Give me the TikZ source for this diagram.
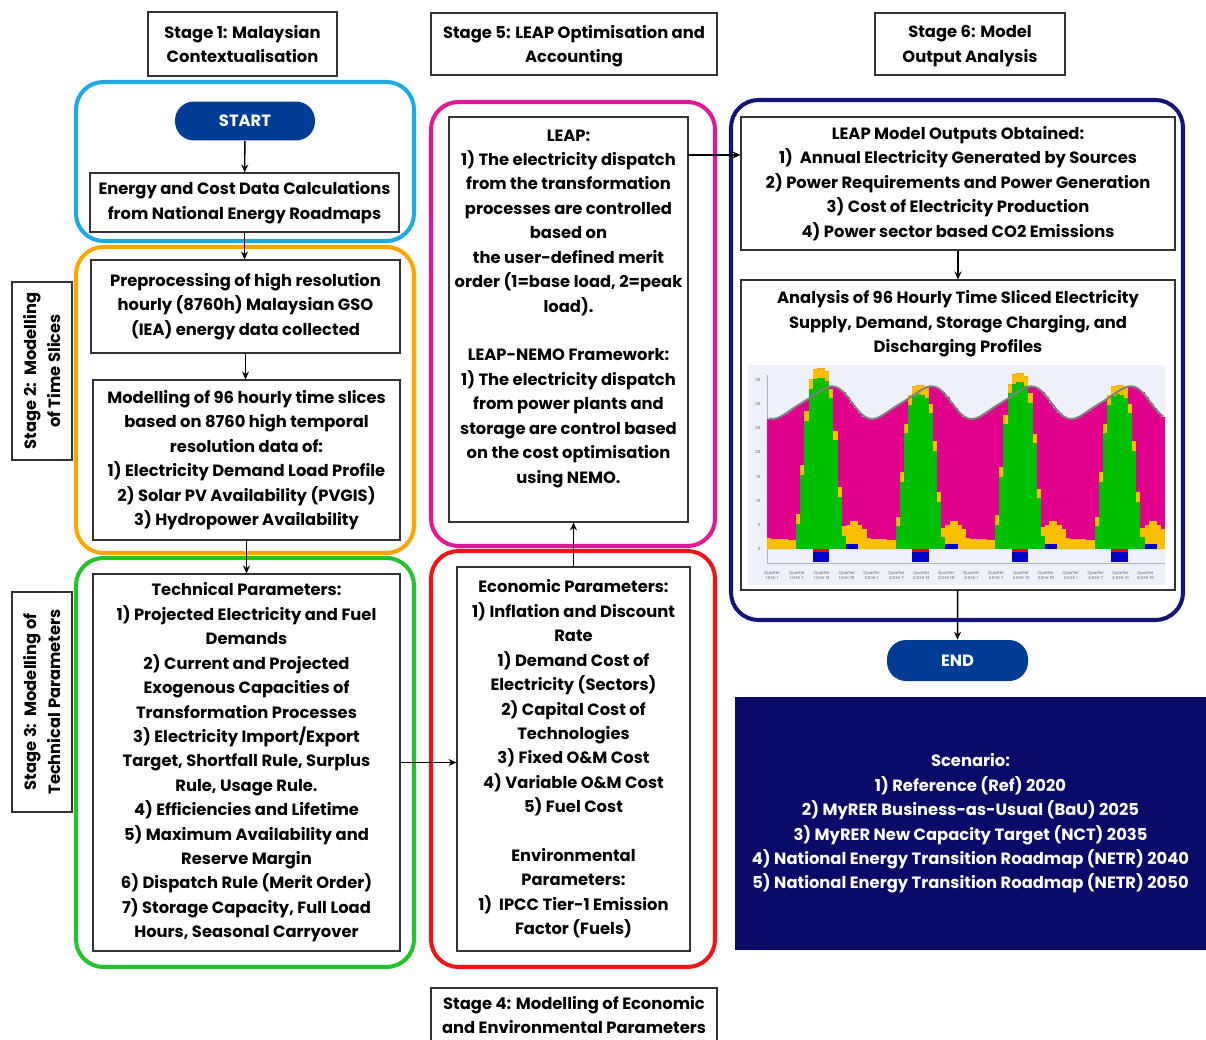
\documentclass[tikz,border=0pt]{standalone}
\usepackage{fontspec}
\setmainfont{Poppins}
\usetikzlibrary{arrows.meta}
\usetikzlibrary{positioning}

\definecolor{frcyan}{RGB}{30,170,225}
\definecolor{frorange}{RGB}{255,165,0}
\definecolor{frgreen}{RGB}{35,195,45}
\definecolor{frmagenta}{RGB}{230,20,150}
\definecolor{frred}{RGB}{240,20,20}
\definecolor{frnavy}{RGB}{20,20,120}
\definecolor{pillblue}{RGB}{0,60,150}
\definecolor{scenblue}{RGB}{10,10,105}
\definecolor{chartbg}{RGB}{238,240,250}
\definecolor{gridpink}{RGB}{225,0,140}
\definecolor{pvgreen}{RGB}{0,190,0}
\definecolor{gasyellow}{RGB}{255,190,0}
\definecolor{battblue}{RGB}{0,0,200}

\newcommand\boxfont{\bfseries\fontsize{9.3}{13.9}\selectfont}
\newcommand\tickfont{\fontsize{2.4}{2.9}\selectfont}

\begin{document}
\begin{tikzpicture}[x=0.02cm,y=-0.02cm,
  box/.style={draw=black!80,line width=0.7pt,align=center,font=\boxfont,inner sep=0pt},
  stagebox/.style={box,line width=0.8pt},
  frame/.style={line width=2.3pt,rounded corners=0.55cm},
  pill/.style={fill=pillblue,text=white,rounded corners=0.38cm,font=\boxfont,minimum width=2.8cm,minimum height=0.78cm},
  link/.style={-{Stealth[length=4.5pt,width=4pt]},line width=0.8pt},
  tick/.style={font=\tickfont,text=black!60,inner sep=0pt}]

\useasboundingbox (0,0) rectangle (1206,1040);

% coloured stage frames
\draw[frame,draw=frcyan] (76,82) rectangle (414,241);
\draw[frame,draw=frorange] (76,247) rectangle (414,553);
\draw[frame,draw=frgreen] (76,558) rectangle (414,967);
\draw[frame,draw=frmagenta] (431,102) rectangle (715,546);
\draw[frame,draw=frred] (431,551) rectangle (715,967);
\draw[frame,draw=frnavy] (731,100) rectangle (1183,620);

% stage headers
\node[stagebox,minimum width=3.78cm,minimum height=1.28cm] (st1) at (242.5,44) {Stage 1: Malaysian\\Contextualisation};
\node[stagebox,minimum width=5.72cm,minimum height=1.24cm,text depth=0pt] (st5) at (574,44) {Stage 5: LEAP Optimisation and\\Accounting};
\node[stagebox,minimum width=3.8cm,minimum height=1.24cm,text depth=0pt] (st6) at (970,44) {Stage 6: Model\\Output Analysis};
\node[stagebox,minimum width=5.72cm,minimum height=1.08cm] (st4) at (574,1015) {Stage 4: Modelling of Economic\\and Environmental Parameters};
\node[stagebox,rotate=90,minimum width=3.56cm,minimum height=1.2cm] (st2) at (42,371) {Stage 2:\ \ Modelling\\of Time Slices};
\node[stagebox,rotate=90,minimum width=4.4cm,minimum height=1.2cm] (st3) at (42,702) {Stage 3:\ \ Modelling of\\Technical Parameters};

% left column
\node[pill] (start) at (245,121) {START};
\node[box,minimum width=6.18cm,minimum height=1.18cm] (energy) at (244.5,202.5) {Energy and Cost Data Calculations\\from National Energy Roadmaps};
\node[box,minimum width=6.18cm,minimum height=1.86cm] (prep) at (245.5,306.5) {Preprocessing of high resolution\\hourly (8760h) Malaysian GSO\\(IEA) energy data collected};
\node[box,minimum width=6.14cm,minimum height=3.2cm] (slices) at (246.5,460) {Modelling of 96 hourly time slices\\based on 8760 high temporal\\resolution data of:\\1) Electricity Demand Load Profile\\2) Solar PV Availability (PVGIS)\\3) Hydropower Availability};
\node[box,minimum width=6.14cm,minimum height=7.54cm] (tech) at (246.5,762.5) {Technical Parameters:\\1) Projected Electricity and Fuel\\Demands\\2) Current and Projected\\Exogenous Capacities of\\Transformation Processes\\3) Electricity Import/Export\\Target, Shortfall Rule, Surplus\\Rule, Usage Rule.\\4) Efficiencies and Lifetime\\5) Maximum Availability and\\Reserve Margin\\6) Dispatch Rule (Merit Order)\\7) Storage Capacity, Full Load\\Hours, Seasonal Carryover};

% middle column
\node[box,minimum width=4.78cm,minimum height=8.1cm,text depth=15pt] (leap) at (568.5,319.5) {LEAP:\\1) The electricity dispatch\\from the transformation\\processes are controlled\\based on\\the user-defined merit\\order (1=base load, 2=peak\\load).\\[13.9pt]LEAP-NEMO Framework:\\1) The electricity dispatch\\from power plants and\\storage are control based\\on the cost optimisation\\using NEMO.};
\node[box,minimum width=4.66cm,minimum height=7.68cm] (econ) at (573.5,759) {Economic Parameters:\\1) Inflation and Discount\\Rate\\1) Demand Cost of\\Electricity (Sectors)\\2) Capital Cost of\\Technologies\\3) Fixed O\&M Cost\\4) Variable O\&M Cost\\5) Fuel Cost\\[13.9pt]Environmental\\Parameters:\\1)\ \ IPCC Tier-1 Emission\\Factor (Fuels)};

% right column
\node[box,minimum width=8.68cm,minimum height=2.66cm] (outputs) at (958,183.5) {LEAP Model Outputs Obtained:\\1)\ \ Annual Electricity Generated by Sources\\2) Power Requirements and Power Generation\\3) Cost of Electricity Production\\4) Power sector based CO2 Emissions};
\node[box,minimum width=8.68cm,minimum height=6.2cm] (analysis) at (958,435) {};
\node[align=center,font=\boxfont,inner sep=0pt] (antitle) at (958,324) {Analysis of 96 Hourly Time Sliced Electricity\\Supply, Demand, Storage Charging, and\\Discharging Profiles};
\node[pill,minimum width=2.82cm,minimum height=0.82cm] (stop) at (957.5,660.5) {END};
\node[fill=scenblue,text=white,align=center,font=\boxfont,minimum width=9.42cm,minimum height=5.06cm] (scen) at (970.5,823.5) {Scenario:\\1) Reference (Ref) 2020\\2) MyRER Business-as-Usual (BaU) 2025\\3) MyRER New Capacity Target (NCT) 2035\\4) National Energy Transition Roadmap (NETR) 2040\\5) National Energy Transition Roadmap (NETR) 2050};

% time slice chart
\fill[chartbg] (748,365) rectangle (1165,585);
\begin{scope}[shift={(767,549)},x=0.083cm,y=0.0966cm]
 \draw[black!30,very thin] (0,36) -- (0,-3) -- (96,-3);
 \foreach \v in {0,5,...,35} \node[tick,anchor=east] at (-1.5,\v) {\v};
 \foreach \i in {0,...,95}{
  \pgfmathsetmacro\hh{mod(\i,24)}
  \pgfmathtruncatemacro\qq{\i/24}
  \pgfmathsetmacro\pk{\qq==0 ? 35.5 : (\qq==2 ? 34.5 : 32)}
  \pgfmathsetmacro\sol{\pk*exp(-((\hh-12.3)/4.5)^4)}
  \pgfmathsetmacro\sol{\sol<1.5 ? 0 : \sol}
  \pgfmathsetmacro\ybase{\hh>18 ? 6.2-0.8*abs(\hh-20.5) : (\hh<7 ? 2.2-0.05*\hh : 0)}
  \pgfmathsetmacro\dem{30.3+3.2*sin(15*(\hh-8))+0.6*sin(30*(\hh-2))}
  \pgfmathsetmacro\ctop{\sol>0 ? \sol+2 : \ybase}
  \pgfmathsetmacro\mtop{max(\dem,\ctop)}
  \fill[gasyellow] (\i,0) rectangle (\i+1,\ctop);
  \fill[pvgreen] (\i,0) rectangle (\i+1,\sol);
  \fill[gridpink] (\i,\ctop) rectangle (\i+1,\mtop);
  \pgfmathtruncatemacro\chg{and(\hh>10,\hh<15)}
  \ifnum\chg=1 \fill[battblue] (\i,0) rectangle (\i+1,-2.6); \fill[red] (\i,0) rectangle (\i+1,-0.6); \fi
  \pgfmathtruncatemacro\dis{and(\hh>18,\hh<22)}
  \ifnum\dis=1 \fill[battblue] (\i,0) rectangle (\i+1,1.1); \fi
 }
 \draw[black!50,line width=1.1pt] plot[domain=0:95,samples=96] (\x+0.5,{30.3+3.2*sin(15*(mod(\x,24)-8))+0.6*sin(30*(mod(\x,24)-2))});
 \foreach \k [evaluate=\k as \qn using {int(\k/4)+1}, evaluate=\k as \hn using {int(mod(\k,4)*6+1)}] in {0,...,15}
  \node[tick,align=center] at (6*\k+1.2,-5.4) {Quarter\\\qn:Hr \hn};
\end{scope}

% connectors
\coordinate (tap) at (688,155);
\draw[link] (start) -- (energy);
\draw[link] (energy.south) -- (energy.south |- prep.north);
\draw[link] (prep.south) -- (prep.south |- slices.north);
\draw[link] (slices.south) -- (slices.south |- tech.north);
\draw[link] (tech.east) -- (tech.east -| econ.west);
\draw[link] (econ.north) -- (econ.north |- leap.south);
\draw[link] (tap) -- (tap -| outputs.west);
\draw[link] (outputs) -- (analysis);
\draw[link] (analysis) -- (stop);
\end{tikzpicture}
\end{document}
